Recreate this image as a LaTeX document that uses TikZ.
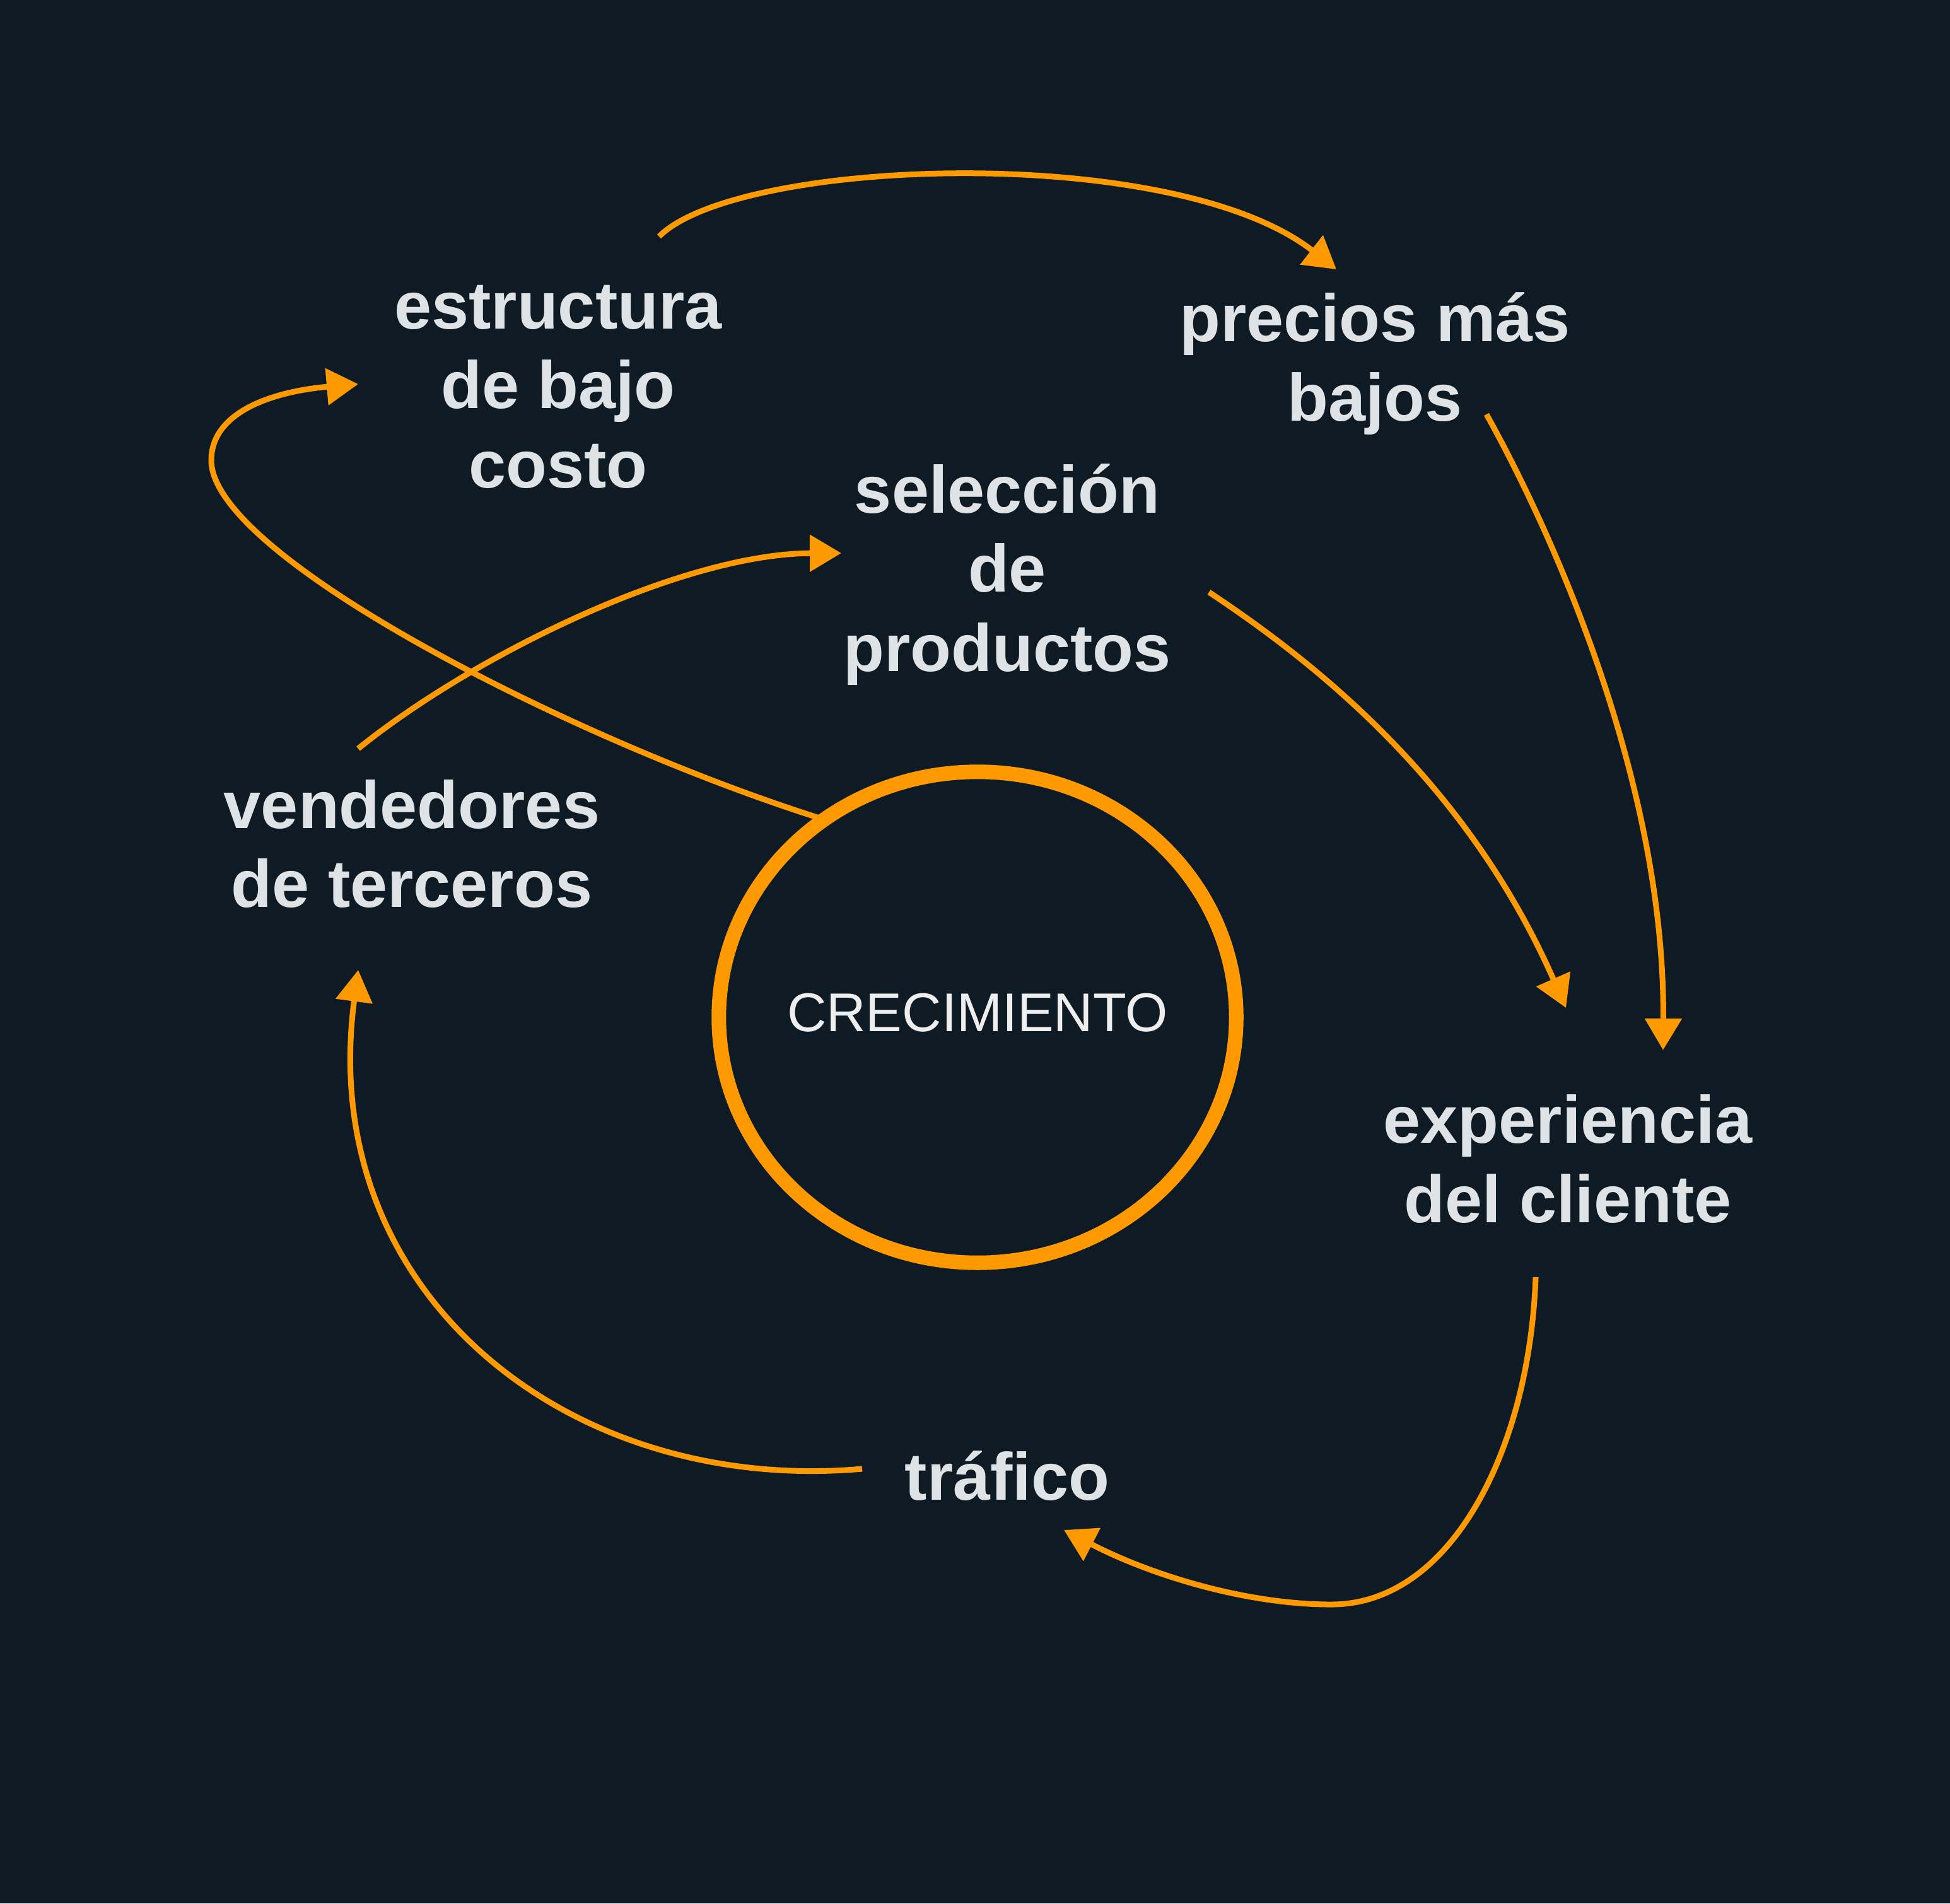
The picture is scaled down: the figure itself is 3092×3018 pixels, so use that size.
\documentclass[tikz,border=0pt]{standalone}
\usepackage{fontspec}
\setmainfont{Liberation Sans}
\usetikzlibrary{arrows.meta,shapes.geometric}
\definecolor{bg}{RGB}{15,27,36}
\definecolor{org}{RGB}{255,153,0}
\definecolor{lbl}{RGB}{224,227,229}
\definecolor{ctr}{RGB}{238,238,238}
\tikzset{
  lbltext/.style={font=\bfseries\fontsize{30.2pt}{36pt}\selectfont, text=lbl, inner sep=0pt, anchor=base},
  link/.style={draw=org, line width=0.09cm, -{Triangle[length=0.5cm,width=0.57cm]}},
  hub/.style={ellipse, draw=org, line width=0.23cm, minimum width=8.2cm, minimum height=7.78cm, inner sep=0pt,
    text=ctr, font=\fontsize{24.6pt}{29pt}\selectfont, text depth=0.16cm}
}
\begin{document}
\begin{tikzpicture}[x=0.01cm, y=-0.01cm]
\fill[bg] (0,0) rectangle (3092,3018);
\useasboundingbox (0,0) rectangle (3092,3018);

% labels
\node[lbltext] (est1) at (885,521) {estructura};
\node[lbltext] (est2) at (885,647) {de bajo};
\node[lbltext] (est3) at (885,773) {costo};
\node[lbltext] (pre1) at (2180,541) {precios más};
\node[lbltext] (pre2) at (2180,667) {bajos};
\node[lbltext] (sel1) at (1597,813) {selección};
\node[lbltext] (sel2) at (1597,938) {de};
\node[lbltext] (sel3) at (1597,1064) {productos};
\node[lbltext] (ven1) at (653,1313) {vendedores};
\node[lbltext] (ven2) at (653,1438) {de terceros};
\node[lbltext] (exp1) at (2486,1812) {experiencia};
\node[lbltext] (exp2) at (2486,1938) {del cliente};
\node[lbltext] (tra) at (1597,2378) {tráfico};

% connector end points
\coordinate (s1) at (1045,375);  \coordinate (e1) at (2119,427);
\coordinate (s2) at (2357,657);  \coordinate (e2) at (2637,1665);
\coordinate (s3) at (1917,939);  \coordinate (e3) at (2483,1598);
\coordinate (s4) at (2435,2025); \coordinate (m4) at (2110,2544); \coordinate (e4) at (1687,2426);
\coordinate (s5) at (1367,2329); \coordinate (e5) at (568,1538);
\coordinate (s6) at (568,1187);  \coordinate (e6) at (1334,877);
\coordinate (s7) at (1296,1296); \coordinate (m7) at (335,730); \coordinate (e7) at (568,609);

% connectors
\draw[link] (s1) .. controls (1170,250) and (1860,225) .. (e1);
\draw[link] (s2) .. controls (2470,860) and (2640,1250) .. (e2);
\draw[link] (s3) .. controls (2100,1060) and (2330,1250) .. (e3);
\draw[link] (s4) .. controls (2425,2300) and (2300,2545) .. (m4) .. controls (1980,2544) and (1830,2500) .. (e4);
\draw[link] (s5) .. controls (900,2370) and (500,2050) .. (e5);
\draw[link] (s6) .. controls (750,1040) and (1080,878) .. (e6);
\draw[link] (s7) .. controls (900,1170) and (335,880) .. (m7) .. controls (335,650) and (440,620) .. (e7);

% centre
\node[hub] (grow) at (1550,1613) {\makebox[0pt][c]{CRECIMIENTO}};
\end{tikzpicture}
\end{document}
